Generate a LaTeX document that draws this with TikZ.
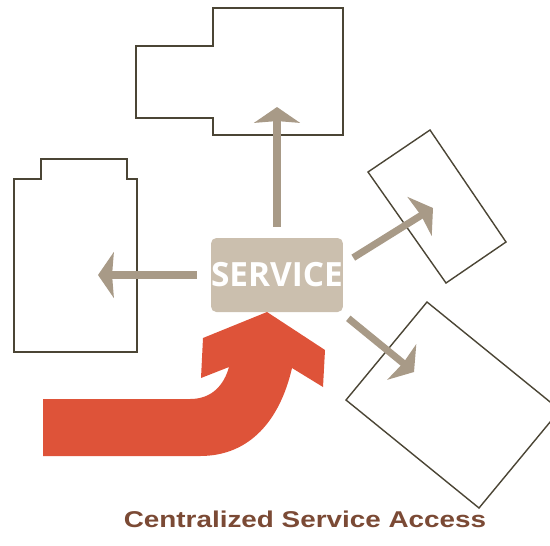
\documentclass[tikz,border=0pt]{standalone}
\usepackage{fontspec}
\usepackage{graphicx}
\usepackage{tikz}
\usetikzlibrary{arrows.meta}
\newfontfamily\svcfont{Open Sans}
\newfontfamily\capfont{Liberation Sans}
\definecolor{svctan}{HTML}{CBBFAE}
\definecolor{artan}{HTML}{A89A87}
\definecolor{bldline}{HTML}{4B4535}
\definecolor{accred}{HTML}{DE5339}
\definecolor{capbrown}{HTML}{7B4A35}
\tikzset{
  svcbox/.style = {fill=svctan, rounded corners=3pt, inner sep=0pt,
                   minimum width=2.62cm, minimum height=1.48cm, text=white,
                   font=\svcfont\bfseries\fontsize{19}{19}\selectfont},
  outar/.style  = {-{Stealth[length=9pt,width=26pt,inset=1pt]}, artan, line width=4pt},
  bldg/.style   = {draw=bldline, line width=0.8pt},
  inflow/.style = {fill=accred}
}

\begin{document}
\begin{tikzpicture}[x=0.02cm, y=-0.02cm]
  \useasboundingbox (0,0) rectangle (550,545);
  % buildings around the service
  \draw[bldg] (136,46) -- (213,46) -- (213,8) -- (343,8) -- (343,135)
              -- (213,135) -- (213,118) -- (136,118) -- cycle;
  \draw[bldg] (14,179) -- (41,179) -- (41,159) -- (127,159) -- (127,179)
              -- (137,179) -- (137,352) -- (14,352) -- cycle;
  \draw[bldg] (368,172) -- (430,130) -- (506,242) -- (446,283) -- cycle;
  \begin{scope}
    \clip (0,0) rectangle (550,545);
    \draw[bldg] (346,400) -- (427,302) -- (560,410) -- (479,508) -- cycle;
  \end{scope}

  \node[svcbox] (svc) at (277,275) {SERVICE};

  \coordinate (tipN)  at (277,107);
  \coordinate (tipW)  at (98,275);
  \coordinate (tipNE) at (433,208);
  \coordinate (tipSE) at (414,372);
  \draw[outar] ([shift={(0,-11)}]svc.north)      -- (tipN);
  \draw[outar] ([shift={(-14,0)}]svc.west)       -- (tipW);
  \draw[outar] ([shift={(10,20)}]svc.north east) -- (tipNE);
  \draw[outar] ([shift={(5,6)}]svc.south east)   -- (tipSE);

  % incoming request
  \fill[inflow] (43,399) -- (190,399) .. controls (212,399) and (224,385) .. (229,367)
                -- (201,378) -- (203,338) -- (267,312) -- (325,350) -- (323,387)
                -- (292,368) .. controls (280,420) and (250,456) .. (200,456)
                -- (43,456) -- cycle;

  \node[font=\capfont\bfseries\fontsize{13}{15}\selectfont, text=capbrown, anchor=base]
    (cap) at (305,527) {\scalebox{1.22}[1]{Centralized Service Access}};
\end{tikzpicture}
\end{document}
